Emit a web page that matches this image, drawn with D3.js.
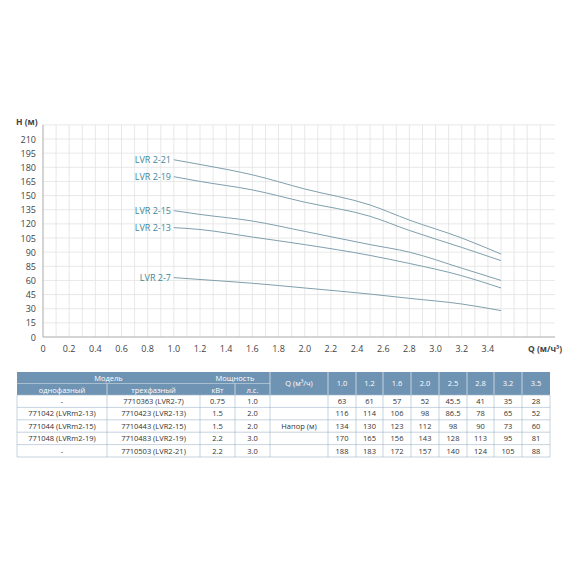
<!DOCTYPE html>
<html><head><meta charset="utf-8">
<script src="https://cdn.jsdelivr.net/npm/d3@7"></script>
<style>
body{margin:0;background:#fff;font-family:"Open Sans",sans-serif}
</style></head><body>
<svg id="c" width="570" height="570"></svg>
<script>
var qPoints = [1.0, 1.2, 1.6, 2.0, 2.5, 2.8, 3.2, 3.5]
var models = ["LVR 2-7", "LVR 2-13", "LVR 2-15", "LVR 2-19", "LVR 2-21"]
var heads = [
  [63, 61, 57, 52, 45.5, 41, 35, 28],
  [116, 114, 106, 98, 86.5, 78, 65, 52],
  [134, 130, 123, 112, 98, 90, 73, 60],
  [170, 165, 156, 143, 128, 113, 95, 81],
  [188, 183, 172, 157, 140, 124, 105, 88]
]
var yTicks = [0, 15, 30, 45, 60, 75, 90, 105, 120, 135, 150, 165, 180, 195, 210]
var yTickLabels = ["0", "15", "30", "45", "60", "85", "90", "105", "120", "135", "150", "165", "180", "195", "210"]
var xTicks = [0, 0.2, 0.4, 0.6, 0.8, 1.0, 1.2, 1.4, 1.6, 1.8, 2.0, 2.2, 2.4, 2.6, 2.8, 3.0, 3.2, 3.4]
var singlePhase = ["-", "771042 (LVRm2-13)", "771044 (LVRm2-15)", "771048 (LVRm2-19)", "-"]
var threePhase = ["7710363 (LVR2-7)", "7710423 (LVR2-13)", "7710443 (LVR2-15)", "7710483 (LVR2-19)", "7710503 (LVR2-21)"]
var kw = ["0.75", "1.5", "1.5", "2.2", "2.2"]
var hp = ["1.0", "2.0", "2.0", "3.0", "3.0"]

var svg = d3.select("#c")
var x = d3.scaleLinear().domain([0, 3.5]).range([43, 501])
var y = d3.scaleLinear().domain([0, 210]).range([337, 139])
var lineCol = "#7f9fad", labCol = "#3f8799"

// grid
var g = svg.append("g")
g.selectAll(".vg").data(d3.range(1, 39)).enter().append("line")
  .attr("x1", function(d){ return x(d/10) }).attr("x2", function(d){ return x(d/10) })
  .attr("y1", y(225)).attr("y2", y(0))
  .attr("stroke", "#e2e2e2").attr("stroke-width", 0.8)
g.selectAll(".hg").data(d3.range(1, 16)).enter().append("line")
  .attr("x1", x(0)).attr("x2", 555)
  .attr("y1", function(d){ return y(d*15) }).attr("y2", function(d){ return y(d*15) })
  .attr("stroke", "#e2e2e2").attr("stroke-width", 0.8)
g.append("line").attr("x1", x(0)).attr("x2", 555).attr("y1", y(0)).attr("y2", y(0)).attr("stroke", "#aaa")
g.append("line").attr("x1", x(0)).attr("x2", x(0)).attr("y1", y(225)).attr("y2", y(0)).attr("stroke", "#aaa")

svg.selectAll(".yl").data(yTicks).enter().append("text")
  .attr("x", 36).attr("y", function(d){ return y(d) + 3.5 })
  .attr("text-anchor", "end").attr("font-size", 9).attr("fill", "#444")
  .text(function(d, i){ return yTickLabels[i] })
svg.selectAll(".xl").data(xTicks).enter().append("text")
  .attr("x", function(d){ return x(d) }).attr("y", 352)
  .attr("text-anchor", "middle").attr("font-size", 9).attr("fill", "#444")
  .text(function(d){ return d === 0 ? "0" : d.toFixed(1) })
svg.append("text").attr("x", 16).attr("y", 125).attr("font-size", 8.5).attr("font-weight", "bold").attr("fill", "#444").text("H (м)")
svg.append("text").attr("x", 528).attr("y", 352).attr("font-size", 8.5).attr("font-weight", "bold").attr("fill", "#444").text("Q (м/ч³)")

var line = d3.line().x(function(d, i){ return x(qPoints[i]) }).y(function(d){ return y(d) }).curve(d3.curveMonotoneX)
svg.selectAll(".crv").data(heads).enter().append("path")
  .attr("d", line).attr("fill", "none").attr("stroke", lineCol).attr("stroke-width", 1)
svg.selectAll(".ml").data(heads).enter().append("text")
  .attr("x", 171).attr("y", function(d){ return y(d[0]) + 3 })
  .attr("text-anchor", "end").attr("font-size", 9).attr("fill", labCol)
  .text(function(d, i){ return models[i] })

// table
var cols = [17, 107, 200, 235, 270, 328, 356, 383, 411, 439, 467, 494, 522, 550]
var hTop = 372, hMid = 383.5, hBot = 395, rowH = 12.4
var t = svg.append("g").attr("font-size", 7.5)
t.append("rect").attr("x", cols[0]).attr("y", hTop).attr("width", cols[13]-cols[0]).attr("height", hBot-hTop).attr("fill", "#6f93b3")
function hdr(x0, yy, s){ t.append("text").attr("x", x0).attr("y", yy).attr("text-anchor", "middle").attr("fill", "#fff").text(s) }
hdr((cols[0]+cols[2])/2, hTop+9, "Модель")
hdr((cols[2]+cols[4])/2, hTop+9, "Мощность")
hdr((cols[0]+cols[1])/2, hMid+9, "однофазный")
hdr((cols[1]+cols[2])/2, hMid+9, "трехфазный")
hdr((cols[2]+cols[3])/2, hMid+9, "кВт")
hdr((cols[3]+cols[4])/2, hMid+9, "л.с.")
hdr((cols[4]+cols[5])/2, hTop+14, "Q (м³/ч)")
qPoints.forEach(function(q, i){ hdr((cols[5+i]+cols[6+i])/2, hTop+14, q.toFixed(1)) })
for (var i = 5; i < 13; i++) t.append("line").attr("x1", cols[i]).attr("x2", cols[i]).attr("y1", hTop).attr("y2", hBot).attr("stroke", "#fff").attr("stroke-width", 0.6)
t.append("line").attr("x1", cols[0]).attr("x2", cols[4]).attr("y1", hMid).attr("y2", hMid).attr("stroke", "#fff").attr("stroke-width", 0.4)
;[1, 3, 4].forEach(function(c){ t.append("line").attr("x1", cols[c]).attr("x2", cols[c]).attr("y1", c==1||c==3 ? hMid : hTop).attr("y2", hBot).attr("stroke", "#fff").attr("stroke-width", 0.6) })

var tBot = hBot + rowH*5
for (var r = 0; r <= 5; r++) {
  var yy = hBot + r*rowH
  t.append("line").attr("x1", cols[0]).attr("x2", cols[13]).attr("y1", yy).attr("y2", yy).attr("stroke", "#9fb6c9").attr("stroke-width", 0.6)
}
cols.forEach(function(c){ t.append("line").attr("x1", c).attr("x2", c).attr("y1", hBot).attr("y2", tBot).attr("stroke", "#9fb6c9").attr("stroke-width", 0.6) })
function cell(c, r, s){ t.append("text").attr("x", (cols[c]+cols[c+1])/2).attr("y", hBot + r*rowH + 9).attr("text-anchor", "middle").attr("fill", "#333").text(s) }
heads.forEach(function(row, r){
  cell(0, r, singlePhase[r]); cell(1, r, threePhase[r]); cell(2, r, kw[r]); cell(3, r, hp[r])
  row.forEach(function(v, j){ cell(5+j, r, v) })
})
cell(4, 2, "Напор (м)")
</script></body></html>
